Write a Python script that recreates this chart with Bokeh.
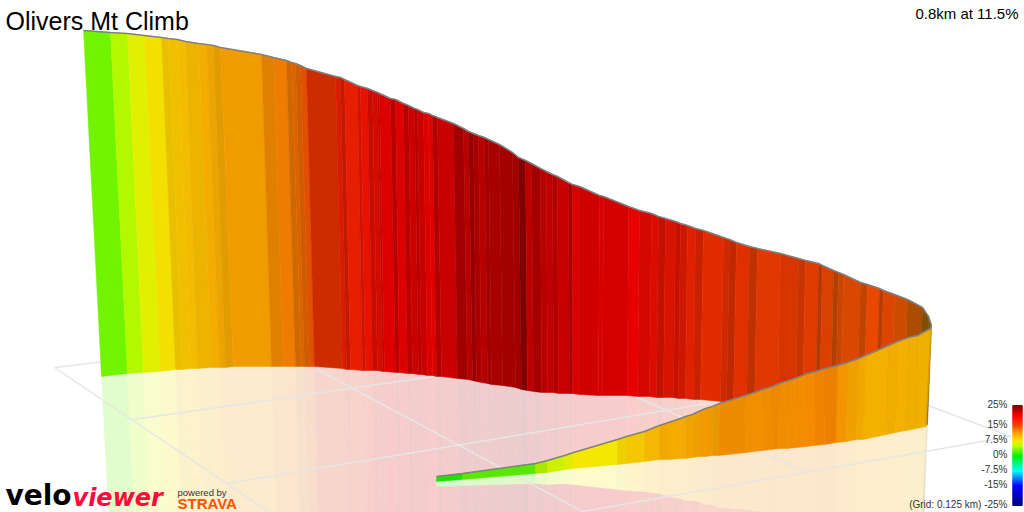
from bokeh.plotting import figure
from bokeh.models import Range1d
from bokeh.core.properties import value
from bokeh.embed import file_html
from bokeh.resources import INLINE
import numpy as np

# far wall: boundaries between gradient strips (top edge and ground edge)
far_x_top = [83,110,127,144,161,168,177,185,198,206,213,220,261,273,286,291,295,300,306,335,340,344,357,360,367,372,377,379,390,395,403,408,414,417,423,428,432,437,453,463,468,473,478,484,488,499,512,518,525,531,540,546,552,557,568,572,579,599,603,628,639,651,658,665,675,680,687,695,703,723,729,736,749,757,780,798,805,818,822,833,838,843,860,867,879,883,894,907,922,928,931]
far_y_top = [30,32,33,35,37,38,39,41,43,44,45,47,54,57,60,62,63,65,68,76,77,79,85,86,88,90,92,93,98,99,103,105,108,109,112,113,115,117,123,128,131,133,135,137,139,144,152,157,160,163,168,171,174,176,182,184,186,195,196,206,210,213,216,218,221,223,225,228,230,237,239,242,246,248,253,258,260,263,265,270,272,274,282,284,288,290,294,299,307,316,325]
far_x_bot = [101,127,143,160,175,182,190,197,211,219,225,233,271,283,295,301,304,309,314,342,346,350,362,365,372,377,382,384,395,399,407,412,418,421,427,432,436,441,457,467,472,476,481,487,491,502,515,521,527,533,541,547,553,558,569,572,579,598,602,627,637,649,656,663,673,678,685,693,700,720,726,733,746,754,777,795,802,815,819,830,835,840,856,863,875,879,890,903,918,924,927]
far_y_bot = [376,373,372,371,369,369,368,368,367,367,367,366,366,366,366,366,366,366,366,368,369,369,370,370,370,370,371,371,372,372,373,373,374,374,375,375,376,376,378,379,380,381,382,383,384,385,387,389,390,391,392,392,392,393,393,393,394,395,395,395,396,396,397,397,397,398,398,399,399,401,402,403,405,406,408,409,410,411,412,413,413,414,415,416,417,418,419,420,422,423,424]
far_colors = ["#70f400","#b4f800","#e0f000","#f4e000","#e8c000","#f0c000","#f4bc00","#ecb400","#f4ac00","#eca400","#e09c00","#f09c00","#e08000","#ee7c00","#d06800","#dc6400","#d05c00","#e05000","#cc2c00","#d81c00",
"#c41800","#e81e00","#cc1400","#e81200","#c80c00","#d40c00","#c00800","#dc0000","#b80000","#dc0000","#b80000","#cc0000","#b80000","#c80000","#dc0000","#e00000","#b00000","#c80000","#a00000","#b80000",
"#980000","#a80000","#b80000","#a00000","#a80000","#a40000","#a00000","#800000","#bc0000","#a40000","#b80000","#c00000","#b00000","#c80000","#a80000","#d80000","#d00000","#d80000","#d40000","#e80000",
"#d40800","#dc0c00","#c41000","#d81400","#c81000","#cc1800","#e02000","#c82000","#e02c00","#d02800","#c02800","#e03000","#c03000","#e03800","#d83400","#c83400","#e03c00","#b43800","#dc4000","#b04000",
"#c84400","#d84800","#c04400","#e84800","#b83c00","#dc4400","#cc4c00","#ac4c00","#805000","#805000"]

# near wall
near_x_top = [436,462,535,547,564,573,617,626,644,659,668,680,685,692,698,705,712,719,745,754,762,772,779,788,797,807,815,825,837,847,858,865,888,897,908,917,930,931]
near_y_top = [476,473,463,460,455,452,439,436,431,425,422,418,416,414,411,408,406,403,395,392,389,386,383,380,377,373,371,368,365,362,358,355,345,341,337,335,328,325]
near_x_bot = [436,462,535,547,564,573,617,626,644,659,668,680,685,692,698,705,712,718,746,753,762,771,778,787,796,806,814,824,836,846,856,863,886,895,906,916,925,926]
near_y_bot = [481,479,473,472,469,468,464,463,461,459,459,458,458,457,456,456,455,455,452,451,450,449,448,448,447,446,445,444,442,441,439,439,434,432,430,428,426,426]
near_colors = ["#20e000","#58e800","#a8e800","#ccf000","#e0ec00","#f4e800","#ecd000","#f4c800","#f4b800","#f0a800","#f4aa00","#f4aa00","#f0a400","#f0a000","#f09c00","#f09a00","#e89800","#ee8c00","#f09000","#f29000","#f08c00","#ee8800","#f08c00","#f28c00","#f48c00","#f48a00","#f08400","#ee8000","#f49400","#f0a000","#f0a800","#f4b000","#f0ac00","#f4b000","#f0ae00","#f0b000","#e0a400"]

# ground grid
grid_x0 = [54,315,630,925,54,133,227,582]
grid_y0 = [367,368,394,404,367,419,483,511]
grid_x1 = [275,582,807,1010,105,440,725,1010]
grid_y1 = [516,511,472,436,361,375,400,436]

title = "Olivers Mt Climb"
summary = "0.8km at 11.5%"
legend_labels = ["25%","15%","7.5%","0%","-7.5%","-15%","(Grid: 0.125 km) -25%"]
legend_values = [25,15,7.5,0,-7.5,-15,-25]
stop_values = [-25,-15,-7.5,0,5,7.5,12,15,20,25]
stop_rgb = [(0,0,128),(0,0,255),(0,255,255),(0,240,0),(190,255,0),(255,230,0),(255,150,0),(255,70,0),(255,0,0),(128,0,0)]

SANS = value("Liberation Sans")
LOGO = value("DejaVu Sans")

def pale(c, keep=0.2):
    r, g, b = int(c[1:3],16), int(c[3:5],16), int(c[5:7],16)
    return "#%02x%02x%02x" % tuple(int(round(v*keep + 255*(1-keep))) for v in (r,g,b))

def strips(xt, yt, xb, yb):
    return ([[xt[i],xt[i+1],xb[i+1],xb[i]] for i in range(len(xt)-1)],
            [[yt[i],yt[i+1],yb[i+1],yb[i]] for i in range(len(xt)-1)])

def mirror(xt, yt, xb, yb):
    xm = [2*b-t for t,b in zip(xt,xb)]
    ym = [2*b-t for t,b in zip(yt,yb)]
    return strips(xb, yb, xm, ym)

p = figure(width=1024, height=512, output_backend="svg", toolbar_location=None,
           x_range=Range1d(0,1024), y_range=Range1d(512,0),
           x_axis_location=None, y_axis_location=None, min_border=0)
p.grid.visible = False
p.outline_line_color = None
p.background_fill_color = "white"

xs, ys = mirror(far_x_top, far_y_top, far_x_bot, far_y_bot)
pc = [pale(c) for c in far_colors]
p.patches(xs, ys, fill_color=pc, line_color=pc, line_width=0.5)
xs, ys = mirror(near_x_top, near_y_top, near_x_bot, near_y_bot)
pc = [pale(c) for c in near_colors]
p.patches(xs, ys, fill_color=pc, line_color=pc, line_width=0.5)

p.segment(grid_x0, grid_y0, grid_x1, grid_y1, line_color="#e6e6e6", line_width=1.5)

xs, ys = strips(far_x_top, far_y_top, far_x_bot, far_y_bot)
p.patches(xs, ys, fill_color=far_colors, line_color=far_colors, line_width=0.5)
p.line(far_x_top, far_y_top, line_color="#808080", line_width=1.5)
xs, ys = strips(near_x_top, near_y_top, near_x_bot, near_y_bot)
p.patches(xs, ys, fill_color=near_colors, line_color=near_colors, line_width=0.5)
p.line(near_x_top, near_y_top, line_color="#808080", line_width=1.5)

# legend
cell = np.arange(-25, 25, 0.5)
rgb = [np.interp(cell+0.25, stop_values, [s[k] for s in stop_rgb]) for k in range(3)]
cols = ["#%02x%02x%02x" % (int(r),int(g),int(b)) for r,g,b in zip(*rgb)]
p.quad(left=1012, right=1022, bottom=455-2*cell+0.5, top=455-2*(cell+0.5)-0.5, fill_color=cols, line_color=None)
p.text(x=[1007]*len(legend_labels), y=[454-2*v for v in legend_values], text=legend_labels,
       text_align="right", text_baseline="middle", text_font=SANS,
       text_font_size="10px", text_color="#333333")

p.text(x=[5], y=[20], text=[title], text_font=SANS, text_font_size="25px",
       text_baseline="middle", text_color="#000000")
p.text(x=[1018], y=[13], text=[summary], text_font=SANS, text_font_size="15px",
       text_align="right", text_baseline="middle", text_color="#000000")
p.text(x=[5], y=[495], text=["velo"], text_font=LOGO, text_font_size="28px",
       text_font_style="bold", text_color="#000000", text_baseline="middle")
p.text(x=[72], y=[497], text=["viewer"], text_font=LOGO, text_font_size="24px",
       text_font_style="bold italic", text_color="#ff0a3c", text_baseline="middle")
p.text(x=[177], y=[492], text=["powered by"], text_font=SANS, text_font_size="9.5px",
       text_baseline="middle", text_color="#333333")
p.text(x=[177], y=[503], text=["STRAVA"], text_font=SANS, text_font_size="15px",
       text_font_style="bold", text_color="#fc5200", text_baseline="middle")

open("out.html", "w").write(file_html(p, INLINE))
